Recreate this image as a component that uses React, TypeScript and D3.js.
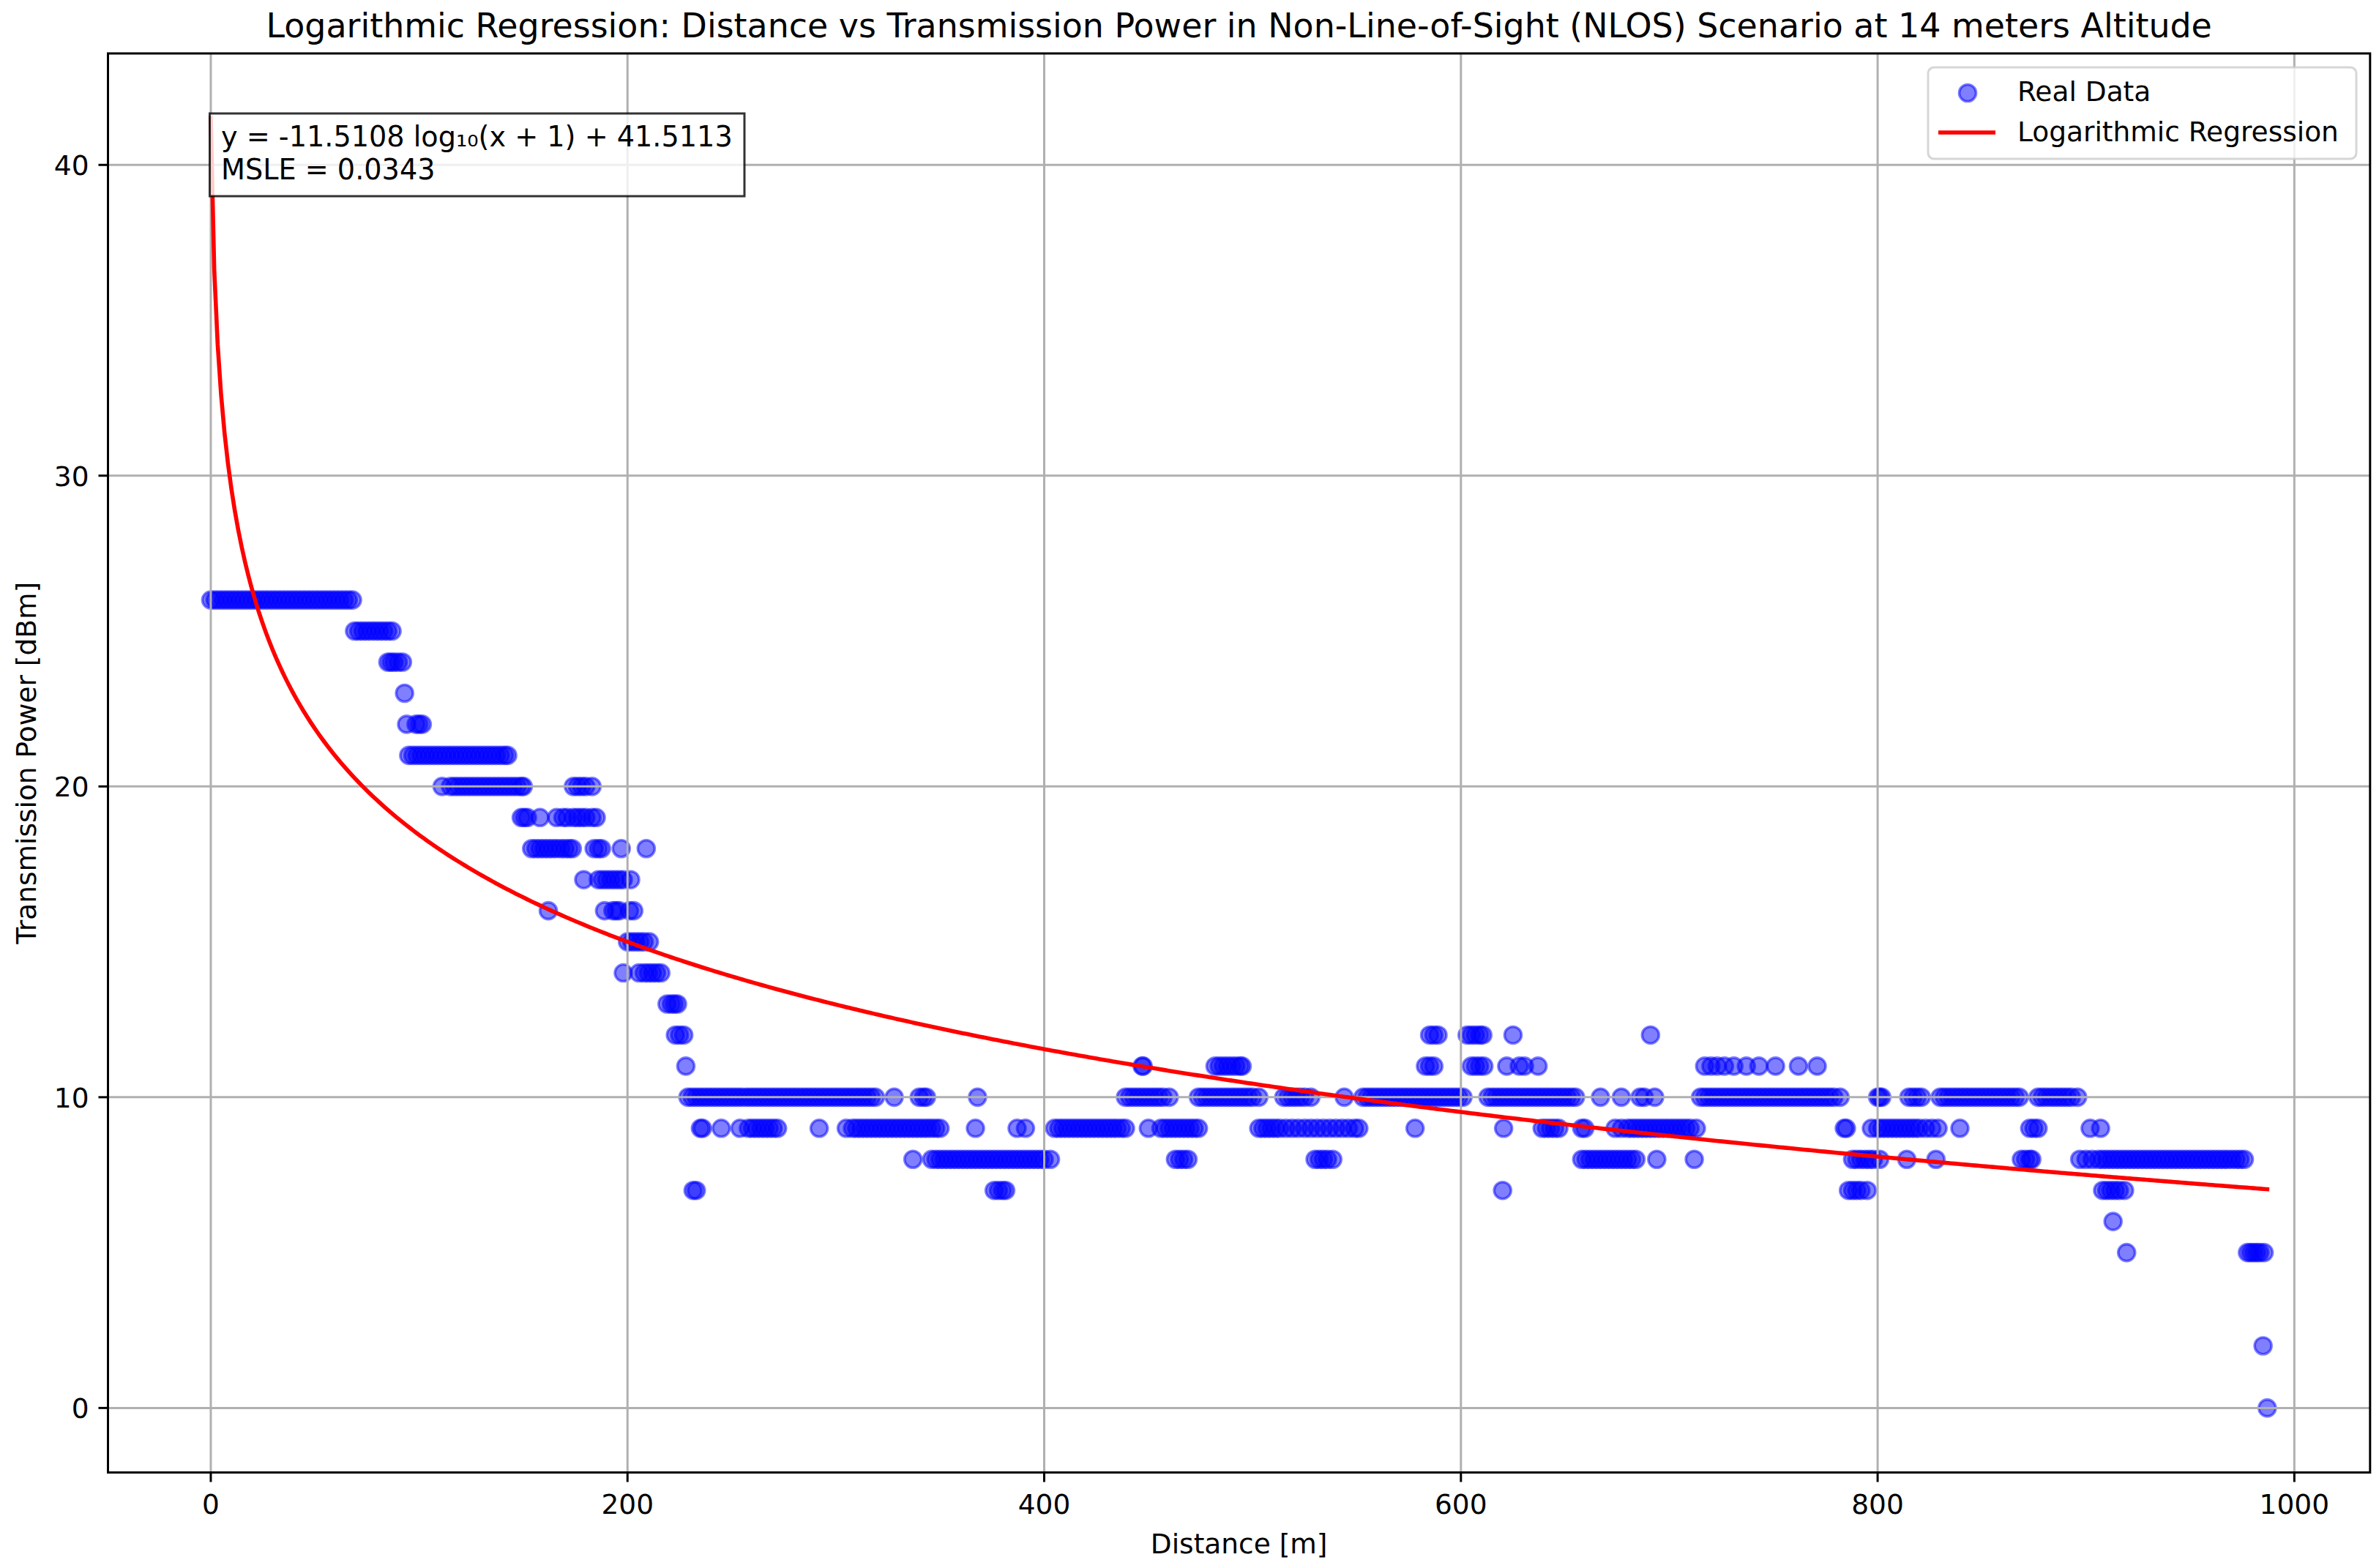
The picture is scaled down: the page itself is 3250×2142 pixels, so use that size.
import React from "react";
import * as d3 from "d3";

const W = 3250;
const H = 2142;

// distance [m] of the measured points, grouped by transmission power level [dBm]
const dist26 = [0, 2, 4, 6, 8, 10, 12, 14, 16, 18, 20, 22, 24, 26, 28, 30, 32, 34, 36, 38, 40, 42, 44, 46, 48, 50, 52, 54, 56, 58, 60, 62, 64, 66, 68];
const dist25 = [69, 71, 73, 75, 77, 79, 81, 83, 85, 87];
const dist24 = [85, 86.5, 88, 90, 92];
const dist23 = [93];
const dist22 = [94, 98.5, 100, 101.5];
const dist21 = [95, 97, 99, 101, 103, 105, 107, 109, 111, 113, 115, 117, 119, 121, 123, 125, 127, 129, 131, 133, 135, 137, 139, 141, 142.5];
const dist20 = [111, 115, 117, 119, 121, 123, 125, 127, 129, 131, 133, 135, 137, 139, 141, 143, 145, 147, 149, 150, 174, 176, 178, 180, 183];
const dist19 = [149, 150.5, 152, 158, 166, 169, 171, 174, 176, 178, 180, 183, 185];
const dist18 = [154, 156, 158, 160, 162, 164, 166, 168, 170, 172, 173.5, 184, 186, 187.5, 197, 209];
const dist17 = [179, 186, 188, 190, 192, 194, 196, 198, 201.5];
const dist16 = [162, 189, 193, 194.5, 196, 201, 203];
const dist15 = [200, 202, 204, 206, 208, 210.5];
const dist14 = [198, 205.5, 208, 210, 212, 214, 216];
const dist13 = [219, 221, 222.5, 224];
const dist12 = [223, 225, 227, 585, 587, 589, 603, 605, 607, 609, 610.5, 625, 691];
const dist11 = [228, 447, 447.5, 482, 484, 486, 488, 490, 492, 494, 495, 583, 585, 587, 605, 607, 609, 611, 622, 628, 630.5, 637, 717, 720, 723, 726.5, 731, 737, 743, 751, 762, 771];
const dist10 = [
  229, 231, 233, 235, 237, 239, 241, 243, 245, 247, 249, 251, 253, 255, 257, 259, 261, 263, 265, 267, 269, 271, 273, 275,
  277, 279, 281, 283, 285, 287, 289, 291, 293, 295, 297, 299, 301, 303, 305, 307, 309, 311, 313, 315, 317, 319,
  328, 340, 342, 343.5, 368,
  439, 441, 443, 445, 447, 449, 451, 453, 455, 457, 460,
  474, 476, 478, 480, 482, 484, 486, 488, 490, 492, 494, 496, 498, 500, 503,
  515, 517, 519, 521, 523, 525, 528, 544,
  553, 555, 557, 559, 561, 563, 565, 567, 569, 571, 573, 575, 577, 579, 581, 583, 585, 587, 589, 591, 593, 595, 597, 599, 601,
  613, 615, 617, 619, 621, 623, 625, 627, 629, 631, 633, 635, 637, 639, 641, 643, 645, 647, 649, 651, 653, 655,
  667, 677, 686, 688, 693,
  715, 717, 719, 721, 723, 725, 727, 729, 731, 733, 735, 737, 739, 741, 743, 745, 747, 749, 751, 753, 755, 757, 759, 761,
  763, 765, 767, 769, 771, 773, 775, 777, 779, 782,
  800, 801, 802, 815, 817, 819, 821,
  830, 832, 834, 836, 838, 840, 842, 844, 846, 848, 850, 852, 854, 856, 858, 860, 862, 864, 866, 868,
  877, 879, 881, 883, 885, 887, 889, 891, 893, 896,
];
const dist9 = [
  235, 236, 245, 254, 258, 260, 262, 264, 266, 268, 270, 272, 292,
  305, 308, 310, 312, 314, 316, 318, 320, 322, 324, 326, 328, 330, 332, 334, 336, 338, 340, 342, 344, 346, 348, 350,
  367, 387, 391,
  405, 407, 409, 411, 413, 415, 417, 419, 421, 423, 425, 427, 429, 431, 433, 435, 437, 439,
  450, 456, 458, 460, 462, 464, 466, 468, 470, 472, 474,
  503, 505, 507, 509, 511, 513, 516, 519, 522, 525, 528, 531, 534, 537, 540, 543, 546, 549, 551,
  578, 620.5, 639, 641, 643, 645, 647, 658, 659.5,
  674, 677, 680, 682, 684, 686, 688, 690, 692, 694, 696, 698, 700, 702, 704, 706, 708, 710, 713,
  784, 785, 797, 800, 802, 804, 806, 808, 810, 812, 814, 816, 818, 820, 823, 826, 829, 839.5,
  873, 875, 877, 902, 907,
];
const dist8 = [
  337, 346, 348, 350, 352, 354, 356, 358, 360, 362, 364, 366, 368, 370, 372, 374, 376, 378, 380, 382, 384, 386, 388, 390,
  392, 394, 396, 398, 400, 403,
  463, 465, 467, 469, 530, 532, 534, 536, 538.5,
  658, 660, 662, 664, 666, 668, 670, 672, 674, 676, 678, 680, 682, 684, 694, 712,
  788, 790, 792, 794, 796, 798, 801, 814, 828, 869, 871, 873, 874,
  897, 900, 903, 906, 908, 910, 912, 914, 916, 918, 920, 922, 924, 926, 928, 930, 932, 934, 936, 938, 940, 942, 944,
  946, 948, 950, 952, 954, 956, 958, 960, 962, 964, 966, 968, 970, 972, 974, 976,
];
const dist7 = [231.5, 233, 376, 378, 380, 381.5, 620, 786, 788, 790, 792, 795, 908, 910, 912, 914, 916, 918.5];
const dist6 = [913];
const dist5 = [919.5, 977.5, 979, 980.5, 982, 983.5, 985.5];
const dist2 = [985];
const dist0 = [987];

const powerLevels = [26, 25, 24, 23, 22, 21, 20, 19, 18, 17, 16, 15, 14, 13, 12, 11, 10, 9, 8, 7, 6, 5, 2, 0];
const distByLevel = [dist26, dist25, dist24, dist23, dist22, dist21, dist20, dist19, dist18, dist17, dist16, dist15, dist14, dist13, dist12, dist11, dist10, dist9, dist8, dist7, dist6, dist5, dist2, dist0];

// fitted model shown in the text box
const slope = -11.5108;
const intercept = 41.5113;
const msle = 0.0343;

const xTicks = [0, 200, 400, 600, 800, 1000];
const yTicks = [0, 10, 20, 30, 40];

const FONT = "DejaVu Sans";

export default function App() {
  const plot = { left: 147.5, right: 3237.8, top: 73, bottom: 2011.5 };

  const points = powerLevels.flatMap((p, i) => distByLevel[i].map((d) => ({ d, p })));
  const [xMin, xMax] = d3.extent(points, (q) => q.d) as [number, number];

  // regression curve over the measured distance range
  const curve = d3.range(0, 600).map((i) => {
    const x = xMin + ((xMax - xMin) * i) / 599;
    return { x, y: slope * Math.log10(x + 1) + intercept };
  });

  const yVals = points.map((q) => q.p).concat(curve.map((c) => c.y));
  const [yMin, yMax] = d3.extent(yVals) as [number, number];
  const xPad = (xMax - xMin) * 0.05;
  const yPad = (yMax - yMin) * 0.05;

  const x = d3.scaleLinear().domain([xMin - xPad, xMax + xPad]).range([plot.left, plot.right]);
  const y = d3.scaleLinear().domain([yMin - yPad, yMax + yPad]).range([plot.bottom, plot.top]);

  const linePath = d3
    .line<{ x: number; y: number }>()
    .x((c) => x(c.x))
    .y((c) => y(c.y))(curve);

  const blue = "#0000ff";
  const r = 11.5;
  const tickLen = 13;
  const fs = 37.5;
  const cx = (plot.left + plot.right) / 2;
  const cy = (plot.top + plot.bottom) / 2;

  return (
    <svg
      width={W}
      height={H}
      viewBox={`0 0 ${W} ${H}`}
      style={{ position: "absolute", left: 0, top: 0, fontFamily: FONT }}
    >
      <rect width={W} height={H} fill="white" />

      {/* scatter */}
      <g>
        {points.map((q, i) => (
          <circle
            key={i}
            cx={x(q.d)}
            cy={y(q.p)}
            r={r}
            fill={blue}
            fillOpacity={0.5}
            stroke={blue}
            strokeOpacity={0.5}
            strokeWidth={3.6}
          />
        ))}
      </g>

      {/* grid sits over the scatter, like matplotlib's default */}
      <g stroke="#b0b0b0" strokeWidth={3}>
        {xTicks.map((t) => (
          <line key={`gx${t}`} x1={x(t)} x2={x(t)} y1={plot.top} y2={plot.bottom} />
        ))}
        {yTicks.map((t) => (
          <line key={`gy${t}`} x1={plot.left} x2={plot.right} y1={y(t)} y2={y(t)} />
        ))}
      </g>

      <path d={linePath || ""} fill="none" stroke="#ff0000" strokeWidth={5.6} strokeLinecap="square" />

      {/* equation box */}
      <rect x={286.5} y={155} width={730.5} height={113} fill="white" fillOpacity={0.8} stroke="black" strokeOpacity={0.8} strokeWidth={3} />
      <text x={302} y={200} fontSize={38.2}>
        {`y = ${slope.toFixed(4)} log₁₀(x + 1) + ${intercept.toFixed(4)}`}
      </text>
      <text x={302} y={245} fontSize={38.2}>
        {`MSLE = ${msle.toFixed(4)}`}
      </text>

      {/* frame */}
      <rect x={plot.left} y={plot.top} width={plot.right - plot.left} height={plot.bottom - plot.top} fill="none" stroke="black" strokeWidth={3} />

      {/* x axis */}
      {xTicks.map((t) => (
        <g key={`xt${t}`}>
          <line x1={x(t)} x2={x(t)} y1={plot.bottom} y2={plot.bottom + tickLen} stroke="black" strokeWidth={3} />
          <text x={x(t)} y={2068} fontSize={fs} textAnchor="middle">
            {t}
          </text>
        </g>
      ))}
      {/* y axis */}
      {yTicks.map((t) => (
        <g key={`yt${t}`}>
          <line x1={plot.left - tickLen} x2={plot.left} y1={y(t)} y2={y(t)} stroke="black" strokeWidth={3} />
          <text x={plot.left - tickLen - 13} y={y(t) + 13.7} fontSize={fs} textAnchor="end">
            {t}
          </text>
        </g>
      ))}

      <text x={cx} y={2122} fontSize={fs} textAnchor="middle">
        Distance [m]
      </text>
      <text x={49} y={cy} fontSize={fs} textAnchor="middle" transform={`rotate(-90, 49, ${cy})`}>
        Transmission Power [dBm]
      </text>
      <text x={cx} y={50.5} fontSize={45.9} textAnchor="middle">
        Logarithmic Regression: Distance vs Transmission Power in Non-Line-of-Sight (NLOS) Scenario at 14 meters Altitude
      </text>

      {/* legend */}
      <g>
        <rect x={2634} y={92} width={585} height={125} rx={8} fill="white" fillOpacity={0.8} stroke="#cccccc" strokeOpacity={0.8} strokeWidth={3} />
        <circle cx={2688} cy={127} r={r} fill={blue} fillOpacity={0.5} stroke={blue} strokeOpacity={0.5} strokeWidth={3.6} />
        <text x={2756} y={138} fontSize={fs}>
          Real Data
        </text>
        <line x1={2648} x2={2726} y1={181} y2={181} stroke="#ff0000" strokeWidth={5.6} />
        <text x={2756} y={193} fontSize={fs}>
          Logarithmic Regression
        </text>
      </g>
    </svg>
  );
}
